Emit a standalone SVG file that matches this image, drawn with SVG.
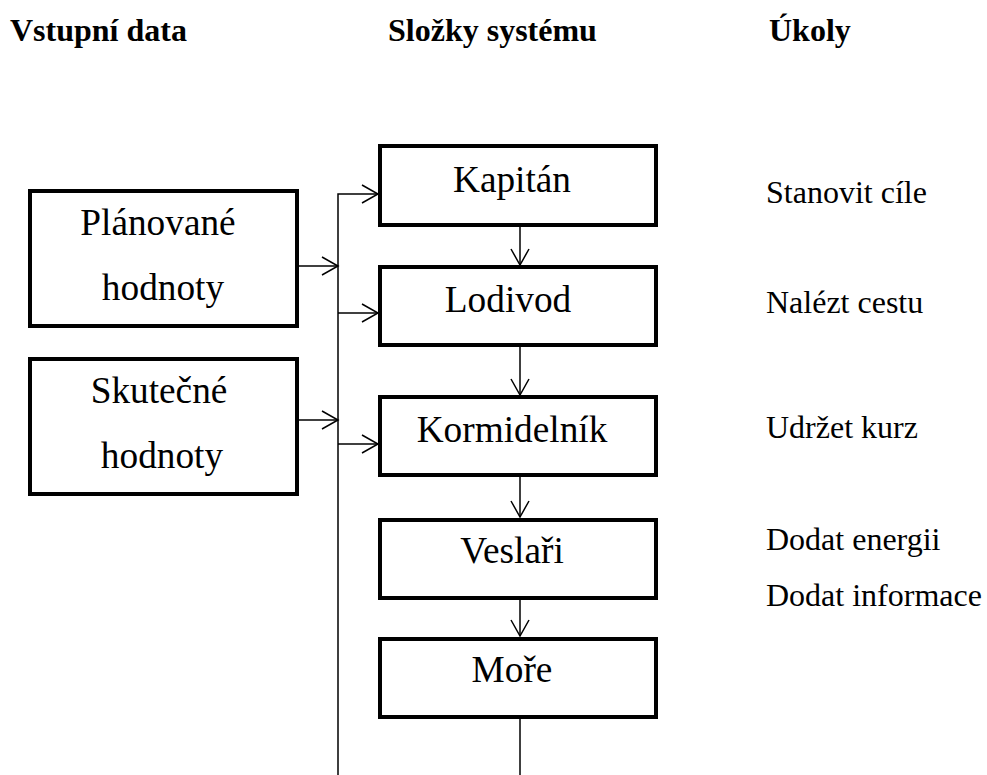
<svg xmlns="http://www.w3.org/2000/svg" width="987" height="775" viewBox="0 0 987 775">
<style>
text{font-family:'Liberation Serif',Tinos,'Times New Roman',Times,'Nimbus Roman','Nimbus Roman No9 L',FreeSerif,'DejaVu Serif','Noto Serif',serif;fill:#000}
.box{fill:#fff;stroke:#000;stroke-width:4}
.lbl{font-size:37.3px}
.task{font-size:32px}
.head{font-size:32px;font-weight:bold}
.con{fill:none;stroke:#000;stroke-width:1.5}
</style>
<defs>
<marker id="arr" markerUnits="userSpaceOnUse" markerWidth="20" markerHeight="22" viewBox="-18 -11 20 22" refX="0" refY="0" orient="auto">
<path d="M-16,-9 L0,0 L-16,9" fill="none" stroke="#000" stroke-width="1.5"/>
</marker>
</defs>
<g id="headings">
<text class="head" x="10" y="41">Vstupní data</text>
<text class="head" x="388" y="41">Složky systému</text>
<text class="head" x="769" y="41">Úkoly</text>
</g>
<g id="connectors">
<path class="con" d="M338,775 V194 H378" marker-end="url(#arr)"/>
<path class="con" d="M338,313 H378" marker-end="url(#arr)"/>
<path class="con" d="M338,444 H378" marker-end="url(#arr)"/>
<path class="con" d="M299,266 H338" marker-end="url(#arr)"/>
<path class="con" d="M299,420 H338" marker-end="url(#arr)"/>
<path class="con" d="M520,227 V265" marker-end="url(#arr)"/>
<path class="con" d="M520,347 V395" marker-end="url(#arr)"/>
<path class="con" d="M520,477 V517" marker-end="url(#arr)"/>
<path class="con" d="M520,600 V636" marker-end="url(#arr)"/>
<path class="con" d="M520,719 V775"/>
</g>
<g id="planovane">
<rect class="box" x="30" y="191" width="267" height="135"/>
<text class="lbl" x="158" y="235" text-anchor="middle">Plánované</text>
<text class="lbl" x="163" y="300" text-anchor="middle">hodnoty</text>
</g>
<g id="skutecne">
<rect class="box" x="30" y="359" width="267" height="135"/>
<text class="lbl" x="159" y="403" text-anchor="middle">Skutečné</text>
<text class="lbl" x="162" y="468" text-anchor="middle">hodnoty</text>
</g>
<g id="kapitan">
<rect class="box" x="380" y="146" width="276" height="79"/>
<text class="lbl" x="512" y="192" text-anchor="middle">Kapitán</text>
</g>
<g id="lodivod">
<rect class="box" x="380" y="267" width="276" height="78"/>
<text class="lbl" x="508" y="312" text-anchor="middle">Lodivod</text>
</g>
<g id="kormidelnik">
<rect class="box" x="380" y="397" width="276" height="78"/>
<text class="lbl" x="512" y="442" text-anchor="middle">Kormidelník</text>
</g>
<g id="veslari">
<rect class="box" x="380" y="520" width="276" height="78"/>
<text class="lbl" x="512" y="563" text-anchor="middle">Veslaři</text>
</g>
<g id="more">
<rect class="box" x="380" y="639" width="276" height="78"/>
<text class="lbl" x="512" y="682" text-anchor="middle">Moře</text>
</g>
<g id="tasks">
<text class="task" x="766" y="203">Stanovit cíle</text>
<text class="task" x="766" y="313">Nalézt cestu</text>
<text class="task" x="766" y="438">Udržet kurz</text>
<text class="task" x="766" y="550">Dodat energii</text>
<text class="task" x="766" y="606">Dodat informace</text>
</g>
</svg>
